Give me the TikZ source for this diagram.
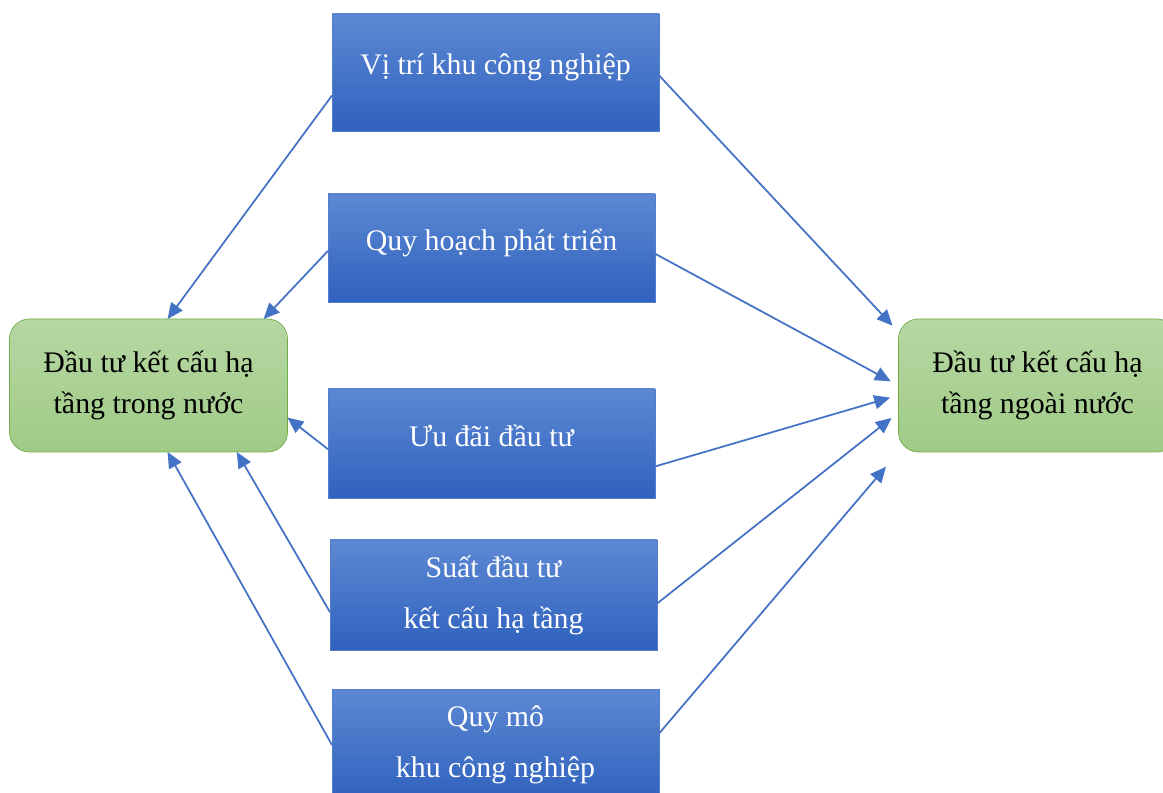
\documentclass[tikz,border=0pt]{standalone}
\usepackage{fontspec}
\setmainfont{Liberation Serif}
\usetikzlibrary{arrows.meta}

\definecolor{factortop}{RGB}{93,136,211}
\definecolor{factorbot}{RGB}{47,98,190}
\definecolor{factorline}{RGB}{86,125,205}
\definecolor{investtop}{RGB}{182,215,164}
\definecolor{investbot}{RGB}{160,203,134}
\definecolor{investline}{RGB}{112,173,71}
\definecolor{linkblue}{RGB}{68,114,196}

\begin{document}
\begin{tikzpicture}[>={Triangle[length=9pt,width=8pt]},
    factor/.style={rectangle, draw=factorline, thin, top color=factortop, bottom color=factorbot,
        minimum width=6.54cm, inner sep=0pt, outer sep=0pt, text=white, align=center,
        font=\fontsize{17}{29}\selectfont},
    oneline/.style={text depth=0.32cm},
    invest/.style={rectangle, rounded corners=0.4cm, draw=investline, thin,
        top color=investtop, bottom color=investbot, minimum width=5.56cm, minimum height=2.66cm,
        inner sep=0pt, outer sep=0pt, align=center, font=\fontsize{17}{23}\selectfont},
    link/.style={->, line width=1pt, linkblue}]
    \useasboundingbox (0,0) rectangle (23.26,15.84);

    % Factors in the middle
    \node[factor, oneline, minimum height=2.34cm] (vitri) at (9.91,14.39) {Vị trí khu công nghiệp};
    \node[factor, oneline, minimum height=2.16cm] (quyhoach) at (9.83,10.88) {Quy hoạch phát triển};
    \node[factor, oneline, minimum height=2.18cm] (uudai) at (9.83,6.97) {Ưu đãi đầu tư};
    \node[factor, minimum height=2.2cm] (suat) at (9.87,3.94) {Suất đầu tư\\kết cấu hạ tầng};
    \node[factor, minimum height=2.24cm] (quymo) at (9.91,0.94) {Quy mô\\khu công nghiệp};

    % Investment boxes
    \node[invest] (trong) at (2.97,8.13) {Đầu tư kết cấu hạ\\tầng trong nước};
    \node[invest] (ngoai) at (20.75,8.13) {Đầu tư kết cấu hạ\\tầng ngoài nước};

    % Links to the left box
    \draw[link] (vitri.188) -- (trong.74);
    \draw[link] (quyhoach.181) -- (trong.30);
    \draw[link] (uudai.182) -- (trong.347);
    \draw[link] (suat.186) -- (trong.323);
    \draw[link] (quymo.west) -- (trong.286);

    % Links to the right box
    \draw[link, shorten >=5pt] (vitri.359) -- (ngoai.159);
    \draw[link, shorten >=5pt] (quyhoach.358) -- (ngoai.west);
    \draw[link, shorten >=5pt] (uudai.352) -- (ngoai.184);
    \draw[link, shorten >=5pt] (suat.357) -- (ngoai.191);
    \draw[link, shorten >=11pt] (quymo.4) -- (ngoai.south west);
\end{tikzpicture}
\end{document}
